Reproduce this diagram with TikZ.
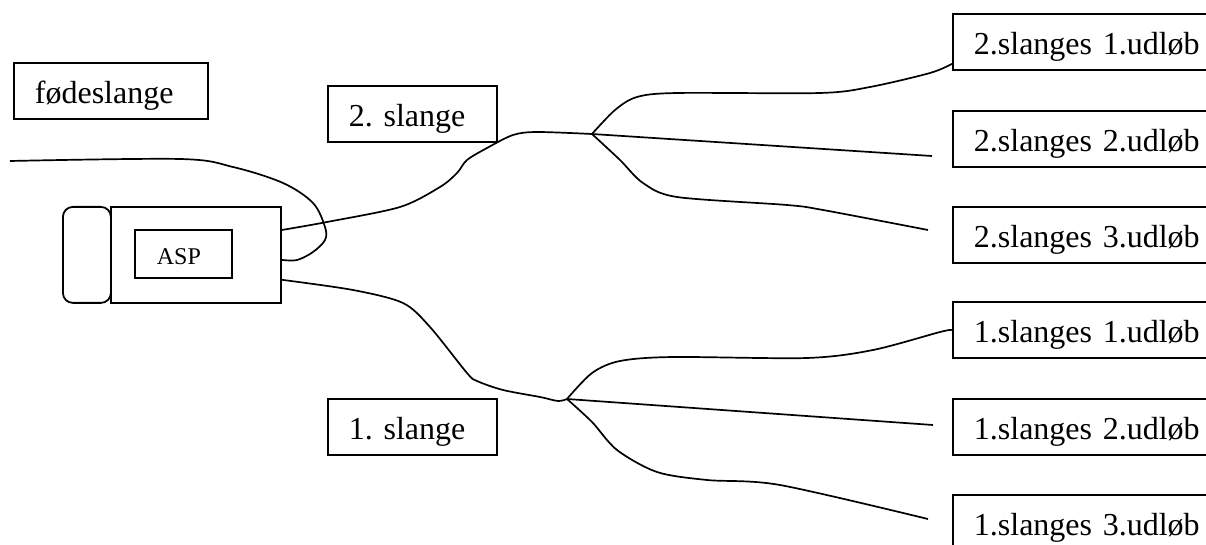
\documentclass[tikz,border=0pt]{standalone}
\usepackage{fontspec}
\setmainfont{Liberation Serif}
\frenchspacing
\begin{document}
\begin{tikzpicture}[x=0.5pt,y=-0.5pt,
  tbox/.style={draw, line width=0.9pt, anchor=north west, inner xsep=10.5pt, inner ysep=0pt,
    align=left, minimum height=28pt, text height=14pt, text depth=1pt, font=\fontsize{16}{19}\selectfont},
  outbox/.style={tbox, text width=119pt},
  slbox/.style={tbox, text width=63.5pt},
  devpart/.style={draw, line width=0.9pt, anchor=north west, inner sep=0pt, minimum height=48pt},
  hose/.style={line width=0.85pt, line join=round}]
\useasboundingbox (0,0) rectangle (1206,545);
\clip (0,0) rectangle (1206,545);

% labels
\node[tbox, text width=76pt] (feed) at (13,62) {fødeslange};
\node[slbox] (s2) at (327,85) {2. slange};
\node[slbox] (s1) at (327,398) {1. slange};

% outlet boxes
\node[outbox] (o21) at (952,13)  {2.slanges 1.udløb};
\node[outbox] (o22) at (952,110) {2.slanges 2.udløb};
\node[outbox] (o23) at (952,206) {2.slanges 3.udløb};
\node[outbox] (o11) at (952,301) {1.slanges 1.udløb};
\node[outbox] (o12) at (952,398) {1.slanges 2.udløb};
\node[outbox] (o13) at (952,494) {1.slanges 3.udløb};

% device
\node[devpart, rounded corners=5pt, minimum width=24pt] (cap) at (62,206) {};
\node[devpart, minimum width=85pt] (asp) at (110,206) {};
\node[tbox, font=\fontsize{12}{14}\selectfont, minimum height=24pt, text height=11pt, text depth=0pt, inner xsep=11pt, text width=26.5pt] (asplabel) at (134,229) {ASP};

% junctions and free ends
\coordinate (j2) at (592,134);
\coordinate (j1) at (567,399);
\coordinate (feedin) at (10,161);
\coordinate (e22) at (932,156);
\coordinate (e23) at (928,230);
\coordinate (e12) at (933,425);
\coordinate (e13) at (928,519);

% feed hose
\draw[hose] plot[smooth, tension=0.55] coordinates {(feedin) (180,159) (233,167) (283,183) (313,203) (325,227) (325,240) (313,252) (297,260) ([yshift=-2.5pt]asp.east)};

% hose 2
\draw[hose] plot[smooth, tension=0.5] coordinates {([yshift=-12pt]asp.north east) (327,222) (400,207) (440,187) (457,173) (467,160) (487,148) (513,135) (537,132) (j2)};
% hose 1
\draw[hose] plot[smooth, tension=0.5] coordinates {([yshift=12pt]asp.south east) (353,290) (403,303) (430,327) (467,373) (477,381) (503,390) (540,397) (558,401) (j1)};

% branches of hose 2
\draw[hose] plot[smooth, tension=0.5] coordinates {(j2) (615,110) (637,97) (677,93) (820,93) (870,87) (930,73) ([yshift=3.5pt]o21.south west)};
\draw[hose] (j2) -- (e22);
\draw[hose] plot[smooth, tension=0.5] coordinates {(j2) (620,160) (643,183) (677,197) (787,205) (823,210) (e23)};

% branches of hose 1
\draw[hose] plot[smooth, tension=0.5] coordinates {(j1) (592,373) (620,361) (673,357) (807,358) (873,350) (940,332) (o11.west)};
\draw[hose] (j1) -- (e12);
\draw[hose] plot[smooth, tension=0.5] coordinates {(j1) (592,422) (617,450) (657,472) (707,480) (780,485) (e13)};
\end{tikzpicture}
\end{document}
